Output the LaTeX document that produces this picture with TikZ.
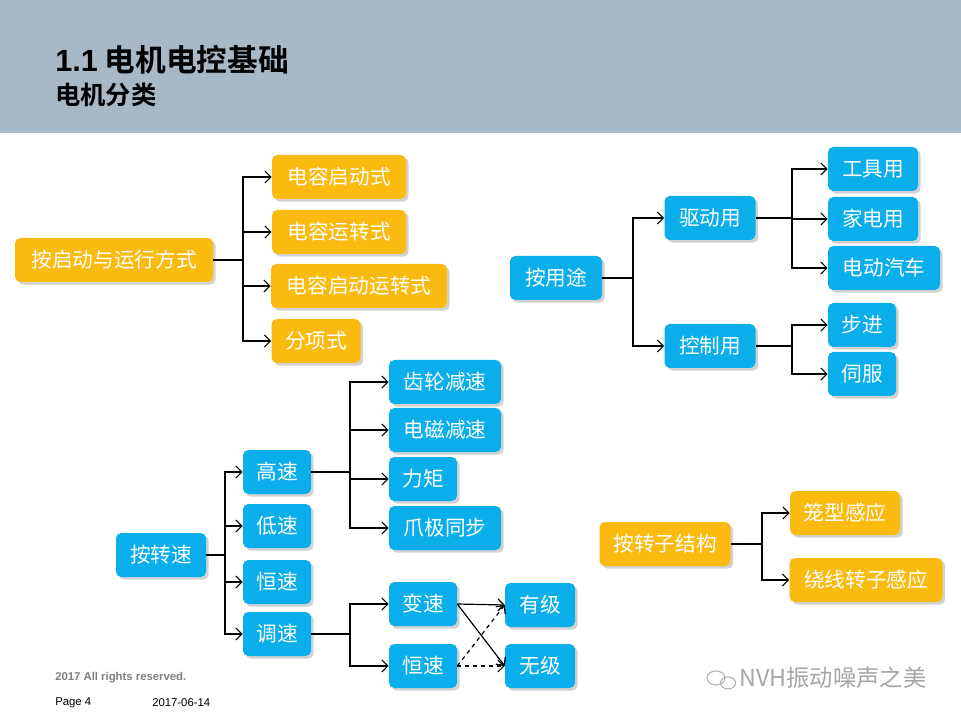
\documentclass[tikz,border=0pt]{standalone}
\usepackage{fontspec}
\setmainfont{Noto Sans CJK SC}
\newfontfamily\cjkb{Noto Sans CJK SC Bold}
\newfontfamily\lat{Liberation Sans}
\usetikzlibrary{arrows.meta,shadows}
\definecolor{hdr}{HTML}{A8B8C5}
\definecolor{org}{HTML}{FBBA10}
\definecolor{blu}{HTML}{0AAEEA}
\tikzset{
 bx/.style={rounded corners=4pt,text=white,inner sep=0pt,minimum height=33pt,
   font=\fontsize{15.5}{17}\selectfont,
   drop shadow={opacity=0.35,shadow xshift=2pt,shadow yshift=-2pt}},
 ob/.style={bx,fill=org},
 bb/.style={bx,fill=blu},
 bw/.style={minimum width=#1*0.75pt},
 con/.style={line width=0.9pt,-{Straight Barb[length=4.5pt,width=9pt]}},
 dcon/.style={con,dashed},
}
\begin{document}
\begin{tikzpicture}[x=0.75pt,y=-0.75pt]
\useasboundingbox (0,0) rectangle (961,720);
\fill[white] (0,0) rectangle (961,720);
\fill[hdr] (0,0) rectangle (961,133);
\node[anchor=west,inner sep=0pt,font=\cjkb\fontsize{23}{25}\selectfont] (t1) at (55,60) {{\lat\bfseries 1.1} 电机电控基础};
\node[anchor=west,inner sep=0pt,font=\cjkb\fontsize{19}{21}\selectfont] (t2) at (55,95) {电机分类};
% group 1
\node[ob,bw=198] (a) at (114,260) {按启动与运行方式};
\node[ob,bw=134] (a1) at (339,177) {电容启动式};
\node[ob,bw=134] (a2) at (339,232) {电容运转式};
\node[ob,bw=176] (a3) at (359,286) {电容启动运转式};
\node[ob,bw=89] (a4) at (316,341) {分项式};
\foreach \c in {a1,a2,a3,a4} \draw[con] (a.east) -- (243,260) |- (\c.west);
% group 2
\node[bb,bw=92] (b) at (556,278) {按用途};
\node[bb,bw=91] (b1) at (710,218) {驱动用};
\node[bb,bw=91] (b2) at (710,346) {控制用};
\foreach \c in {b1,b2} \draw[con] (b.east) -- (633,278) |- (\c.west);
\node[bb,bw=90] (c1) at (873,169) {工具用};
\node[bb,bw=90] (c2) at (873,219) {家电用};
\node[bb,bw=112] (c3) at (884,268) {电动汽车};
\foreach \c in {c1,c2,c3} \draw[con] (b1.east) -- (792,218) |- (\c.west);
\node[bb,bw=68] (d1) at (862,325) {步进};
\node[bb,bw=68] (d2) at (862,374) {伺服};
\foreach \c in {d1,d2} \draw[con] (b2.east) -- (792,346) |- (\c.west);
% group 3
\node[bb,bw=90] (s) at (161,555) {按转速};
\node[bb,bw=68] (s1) at (277,472) {高速};
\node[bb,bw=68] (s2) at (277,526) {低速};
\node[bb,bw=68] (s3) at (277,582) {恒速};
\node[bb,bw=68] (s4) at (277,634) {调速};
\foreach \c in {s1,s2,s3,s4} \draw[con] (s.east) -- (225,555) |- (\c.west);
\node[bb,bw=112] (h1) at (445,382) {齿轮减速};
\node[bb,bw=112] (h2) at (445,430) {电磁减速};
\node[bb,bw=68] (h3) at (423,479) {力矩};
\node[bb,bw=112] (h4) at (445,528) {爪极同步};
\foreach \c in {h1,h2,h3,h4} \draw[con] (s1.east) -- (350,472) |- (\c.west);
\node[bb,bw=68] (v1) at (423,604) {变速};
\node[bb,bw=68] (v2) at (423,666) {恒速};
\foreach \c in {v1,v2} \draw[con] (s4.east) -- (350,634) |- (\c.west);
\node[bb,bw=70] (w1) at (540,605) {有级};
\node[bb,bw=70] (w2) at (540,666) {无级};
\draw[con] (v1.east) -- (w1.west);
\draw[con] (v1.east) -- (w2.west);
\draw[dcon] (v2.east) -- (w1.west);
\draw[dcon] (v2.east) -- (w2.west);
% group 4
\node[ob,bw=131] (r) at (665,544) {按转子结构};
\node[ob,bw=110] (r1) at (845,513) {笼型感应};
\node[ob,bw=153] (r2) at (866,580) {绕线转子感应};
\foreach \c in {r1,r2} \draw[con] (r.east) -- (762,544) |- (\c.west);
% footer
\node[anchor=west,inner sep=0pt,text=gray,font=\lat\bfseries\fontsize{8.5}{10}\selectfont] (f1) at (55,678) {2017 All rights reserved.};
\node[anchor=west,inner sep=0pt,font=\lat\fontsize{8.5}{10}\selectfont] (f2) at (55,703) {Page 4};
\node[anchor=west,inner sep=0pt,font=\lat\fontsize{8.5}{10}\selectfont] (f3) at (152,703) {2017-06-14};
\node[anchor=west,inner sep=0pt,text=gray!70,font=\fontsize{17.5}{19}\selectfont] (wm) at (739,678) {NVH振动噪声之美};
\draw[gray!60,line width=0.8pt] (716,678) ellipse (9 and 7) (728,683) ellipse (7.5 and 6);
\end{tikzpicture}
\end{document}
